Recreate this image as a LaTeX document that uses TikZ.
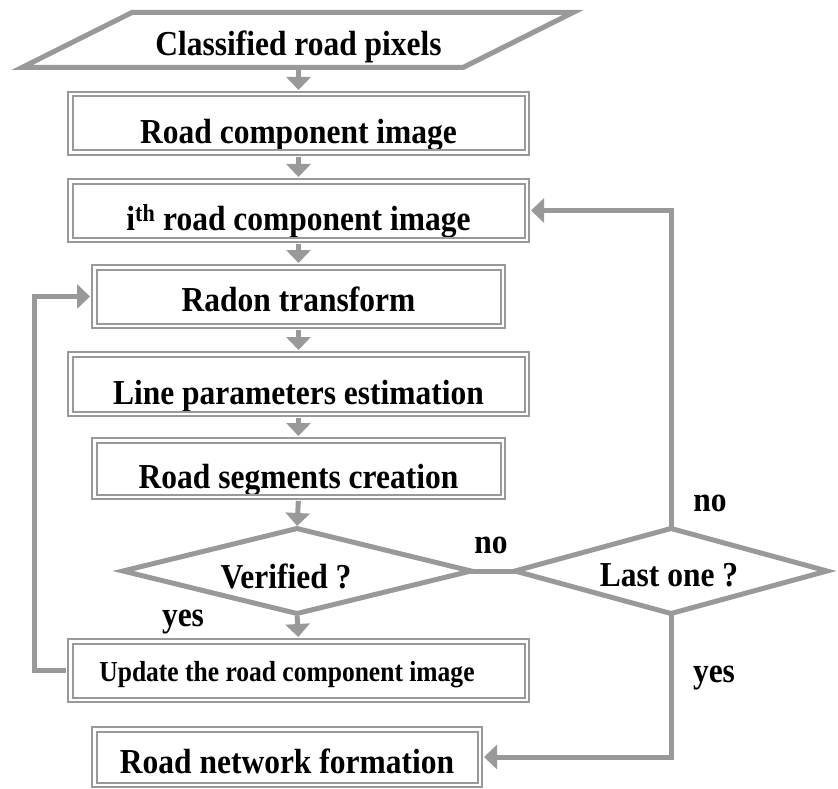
\documentclass[tikz,border=0pt]{standalone}
\usepackage{fontspec}
\setmainfont{Liberation Serif}
\usetikzlibrary{arrows.meta}
\definecolor{lg}{RGB}{153,153,153}
\newcommand{\cnd}[1]{\scalebox{0.9}[1]{#1}}
\newcommand{\cnds}[1]{\scalebox{0.88}[1]{#1}}
\begin{document}
\begin{tikzpicture}[x=1pt,y=-1pt,
  box/.style={draw=lg, line width=2pt, double=white, double distance=2.5pt, inner sep=0pt},
  txt/.style={anchor=base, inner sep=0pt, font=\fontsize{35}{38}\selectfont\bfseries},
  smalltxt/.style={anchor=base, inner sep=0pt, font=\fontsize{29}{31}\selectfont\bfseries},
  conn/.style={draw=lg, line width=5pt},
  flow/.style={draw=lg, line width=5pt, -{Triangle[width=24pt,length=13pt]}},
]
\useasboundingbox (0,0) rectangle (838,789);

% input parallelogram
\coordinate (p1) at (132,12.5);
\coordinate (p2) at (573,12.5);
\coordinate (p3) at (463,67.5);
\coordinate (p4) at (22,67.5);
\coordinate (pb) at (298.5,67.5);
\node[txt] (ptxt) at (298.5,56) {\cnd{Classified road pixels}};
\draw[conn] (p1) -- (p2) -- (p3) -- (p4) -- cycle;

% texts (drawn first so that box lines lie over them)
\node[txt] (rct)  at (298.5,143.5) {\cnd{Road component image}};
\node[txt] (itht) at (298.5,230.5) {\cnd{i\textsuperscript{th} road component image}};
\node[txt] (radt) at (298.5,311) {\cnd{Radon transform}};
\node[txt] (lpet) at (298.5,404) {\cnd{Line parameters estimation}};
\node[txt] (rsct) at (298.5,488.5) {\cnd{Road segments creation}};
\node[smalltxt] (updt) at (287,681) {\cnds{Update the road component image}};
\node[txt] (rnft) at (287,773) {\cnd{Road network formation}};

% boxes
\node[box, minimum width=456.5pt, minimum height=58.5pt] (rc)  at (298.5,123.5) {};
\node[box, minimum width=456.5pt, minimum height=58.5pt] (ith) at (298.5,210.5) {};
\node[box, minimum width=408.5pt, minimum height=58.5pt] (rad) at (298.5,296.5) {};
\node[box, minimum width=456.5pt, minimum height=59.5pt] (lpe) at (298.5,384) {};
\node[box, minimum width=408.5pt, minimum height=56.5pt] (rsc) at (298.5,468.5) {};
\node[box, minimum width=456.5pt, minimum height=58.5pt] (upd) at (298.5,670.5) {};
\node[box, minimum width=385.5pt, minimum height=55.5pt] (rnf) at (287,757) {};

% diamonds
\coordinate (vl) at (123,571);
\coordinate (vr) at (471,571);
\coordinate (vt) at (297,528.5);
\coordinate (vb) at (297,613.5);
\draw[conn] (vl) -- (vt) -- (vr) -- (vb) -- cycle;
\node[txt] (vtxt) at (286,588) {\cnd{Verified ?}};

\coordinate (ll) at (515,571);
\coordinate (lr) at (827,571);
\coordinate (lt) at (671,528.5);
\coordinate (lb) at (671,613.5);
\draw[conn] (ll) -- (lt) -- (lr) -- (lb) -- cycle;
\node[txt] (ltxt) at (669,586) {\cnd{Last one ?}};

% connectors
\draw[flow, shorten <=2.5pt, shorten >=3.25pt] (pb) -- (rc.north);
\draw[flow, shorten <=3.25pt, shorten >=3.25pt] (rc.south) -- (ith.north);
\draw[flow, shorten <=3.25pt, shorten >=3.25pt] (ith.south) -- (rad.north);
\draw[flow, shorten <=3.25pt, shorten >=3.25pt] (rad.south) -- (lpe.north);
\draw[flow, shorten <=3.25pt, shorten >=3.25pt] (lpe.south) -- (rsc.north);
\draw[flow, shorten <=3.25pt, shorten >=2.5pt] (rsc.south) -- (vt);
\draw[flow, shorten <=2.5pt, shorten >=3.25pt] (vb) -- (upd.north);
\draw[conn] (vr) -- (ll);

\coordinate (lx) at (34,0);
\draw[flow, shorten <=3.25pt, shorten >=3.25pt] (upd.west) -- (upd.west -| lx) |- (rad.west);
\draw[flow, shorten >=3.25pt] (lt) |- (ith.east);
\draw[flow, shorten >=3.25pt] (lb) |- (rnf.east);

% labels
\node[txt] (no1)  at (491,553) {\cnd{no}};
\node[txt] (no2)  at (710,511) {\cnd{no}};
\node[txt] (yes1) at (183,626) {\cnd{yes}};
\node[txt] (yes2) at (714,682) {\cnd{yes}};
\end{tikzpicture}
\end{document}
